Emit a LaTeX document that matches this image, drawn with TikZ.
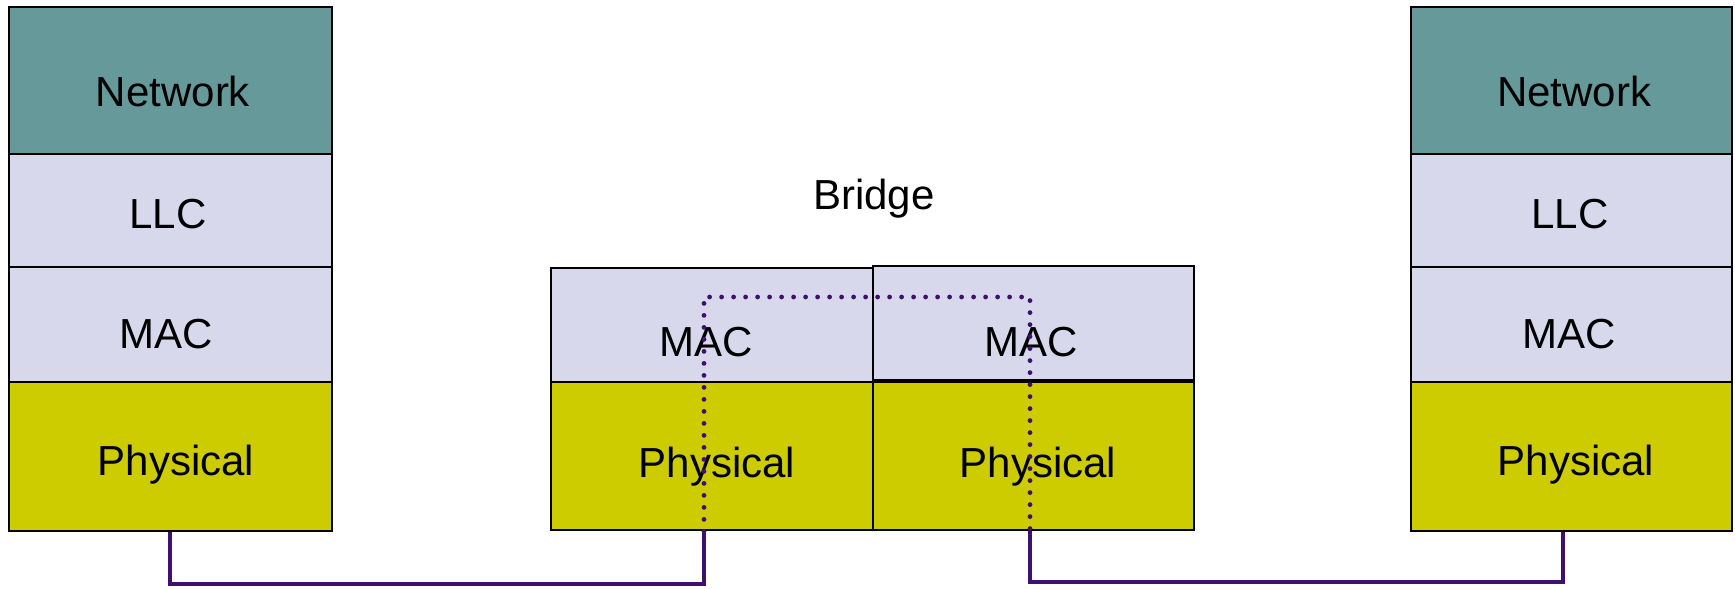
\documentclass[tikz,border=0pt]{standalone}
\usepackage{fontspec}
\setmainfont{Liberation Sans}
\usetikzlibrary{fit}
\definecolor{netteal}{RGB}{102,153,153}
\definecolor{linklav}{RGB}{216,216,236}
\definecolor{phyolive}{RGB}{204,204,0}
\definecolor{wire}{RGB}{64,16,112}
\begin{document}
\begin{tikzpicture}[x=0.5pt,y=-0.5pt,
  layer/.style={draw=black, line width=1.4pt, inner sep=0pt},
  netlayer/.style={layer, fill=netteal},
  linklayer/.style={layer, fill=linklav},
  phylayer/.style={layer, fill=phyolive},
  lbl/.style={anchor=base, inner sep=0pt, font=\fontsize{21}{25}\selectfont},
  wireline/.style={draw=wire, line width=1.7pt},
  relayline/.style={draw=wire, line width=2.4pt, line cap=round, dash pattern=on 0pt off 6pt}]

\useasboundingbox (0,0) rectangle (1735,589);

% left end station
\node[netlayer]  (lnet) [fit={(9,7) (332,154)}] {};
\node[linklayer] (lllc) [fit={(9,154) (332,267)}] {};
\node[linklayer] (lmac) [fit={(9,267) (332,382)}] {};
\node[phylayer]  (lphy) [fit={(9,382) (332,531)}] {};
\node[lbl] (tlnet) at (173,106.5) {Network};
\node[lbl] (tlllc) at (168,228) {LLC};
\node[lbl] (tlmac) at (166,348) {MAC};
\node[lbl] (tlphy) at (176,475) {Physical};

% right end station
\node[netlayer]  (rnet) [fit={(1411,7) (1732,154)}] {};
\node[linklayer] (rllc) [fit={(1411,154) (1732,267)}] {};
\node[linklayer] (rmac) [fit={(1411,267) (1732,382)}] {};
\node[phylayer]  (rphy) [fit={(1411,382) (1732,531)}] {};
\node[lbl] (trnet) at (1574,106.5) {Network};
\node[lbl] (trllc) at (1570,228) {LLC};
\node[lbl] (trmac) at (1569,348) {MAC};
\node[lbl] (trphy) at (1576,475) {Physical};

% bridge with two ports
\node[lbl] (tbridge) at (874,209) {Bridge};
\node[linklayer] (bmacl) [fit={(551,268) (873,382)}] {};
\node[linklayer] (bmacr) [fit={(873,266) (1194,380)}] {};
\node[phylayer]  (bphyl) [fit={(551,382) (873,530)}] {};
\node[phylayer]  (bphyr) [fit={(873,382) (1194,530)}] {};
\node[lbl] (tbmacl) at (706,356) {MAC};
\node[lbl] (tbmacr) at (1031,356) {MAC};
\node[lbl] (tbphyl) at (717,477) {Physical};
\node[lbl] (tbphyr) at (1038,477) {Physical};

% guide coordinates for the wiring
\coordinate (xa) at (170,0);
\coordinate (xb) at (704,0);
\coordinate (xc) at (1030,0);
\coordinate (xd) at (1563,0);
\coordinate (ya) at (0,584);
\coordinate (yb) at (0,582);
\coordinate (yt) at (0,297);

% LAN segments
\draw[wireline] (lphy.south -| xa) -- (xa |- ya) -- (xb |- ya) -- (bphyl.south -| xb);
\draw[wireline] (bphyr.south -| xc) -- (xc |- yb) -- (xd |- yb) -- (rphy.south -| xd);

% frame relayed through the bridge
\draw[relayline] (bphyl.south -| xb) -- (xb |- yt) -- (xc |- yt) -- (bphyr.south -| xc);
\end{tikzpicture}
\end{document}
